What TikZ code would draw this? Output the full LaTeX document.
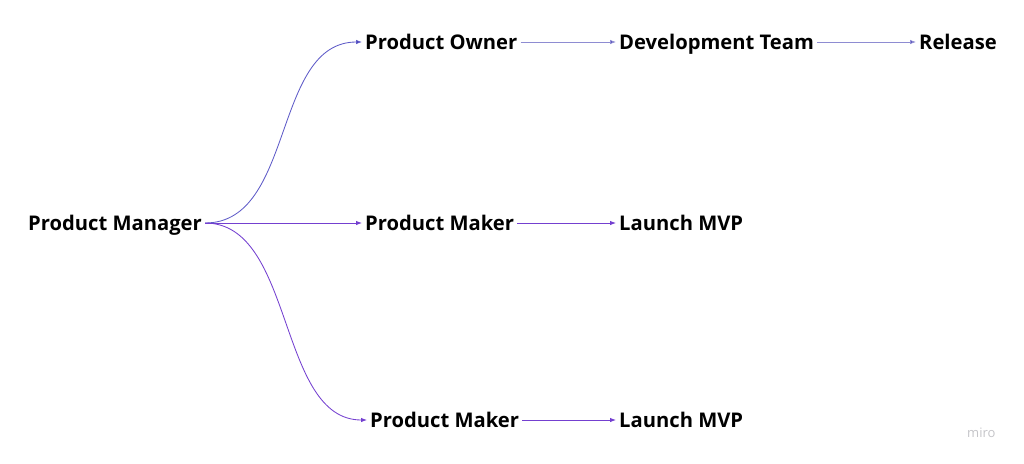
\documentclass[tikz,border=0pt]{standalone}
\usepackage{fontspec}
\setmainfont{Open Sans}
\usetikzlibrary{arrows.meta}
\definecolor{edgeA}{HTML}{5F5CC8}
\definecolor{edgeB}{HTML}{7440D0}
\definecolor{edgeC}{HTML}{8E8CD2}
\definecolor{tipc}{HTML}{3A2FB0}
\definecolor{mirogray}{HTML}{C4C4C8}
\tikzset{
  lbl/.style={anchor=west, inner xsep=3pt, inner ysep=0pt, text height=17pt, text depth=3pt, font=\fontsize{20.2}{23}\selectfont\bfseries, text=black},
  conn/.style={line width=0.85pt, -{Latex[length=6pt,width=4.5pt]}},
}
\begin{document}
\begin{tikzpicture}[x=1pt,y=-1pt]
\useasboundingbox (0,0) rectangle (1024,463);
\node[lbl] (pm) at (25,223) {Product Manager};
\node[lbl] (po) at (362,42) {Product Owner};
\node[lbl] (dt) at (616,42) {Development Team};
\node[lbl] (rel) at (916,42) {Release};
\node[lbl] (mk1) at (362,223) {Product Maker};
\node[lbl] (mvp1) at (616,223) {Launch MVP};
\node[lbl] (mk2) at (367,420) {Product Maker};
\node[lbl] (mvp2) at (616,420) {Launch MVP};
\node[anchor=west, inner sep=0pt, font=\fontsize{13}{15}\selectfont, text=mirogray] (miro) at (967,433) {miro};

\draw[conn, draw=edgeA, -{Latex[length=6pt,width=4.5pt,fill=tipc]}] (pm.east) .. controls +(90,0) and +(-90,0) .. (po.west);
\draw[conn, draw=edgeB] (pm.east) -- (mk1.west);
\draw[conn, draw=edgeB] (pm.east) .. controls +(90,0) and +(-90,0) .. (mk2.west);
\draw[conn, draw=edgeC, -{Latex[length=6pt,width=4.5pt,fill=tipc]}] (po.east) -- (dt.west);
\draw[conn, draw=edgeC, -{Latex[length=6pt,width=4.5pt,fill=tipc]}] (dt.east) -- (rel.west);
\draw[conn, draw=edgeB] (mk1.east) -- (mvp1.west);
\draw[conn, draw=edgeB] (mk2.east) -- (mvp2.west);
\end{tikzpicture}
\end{document}
